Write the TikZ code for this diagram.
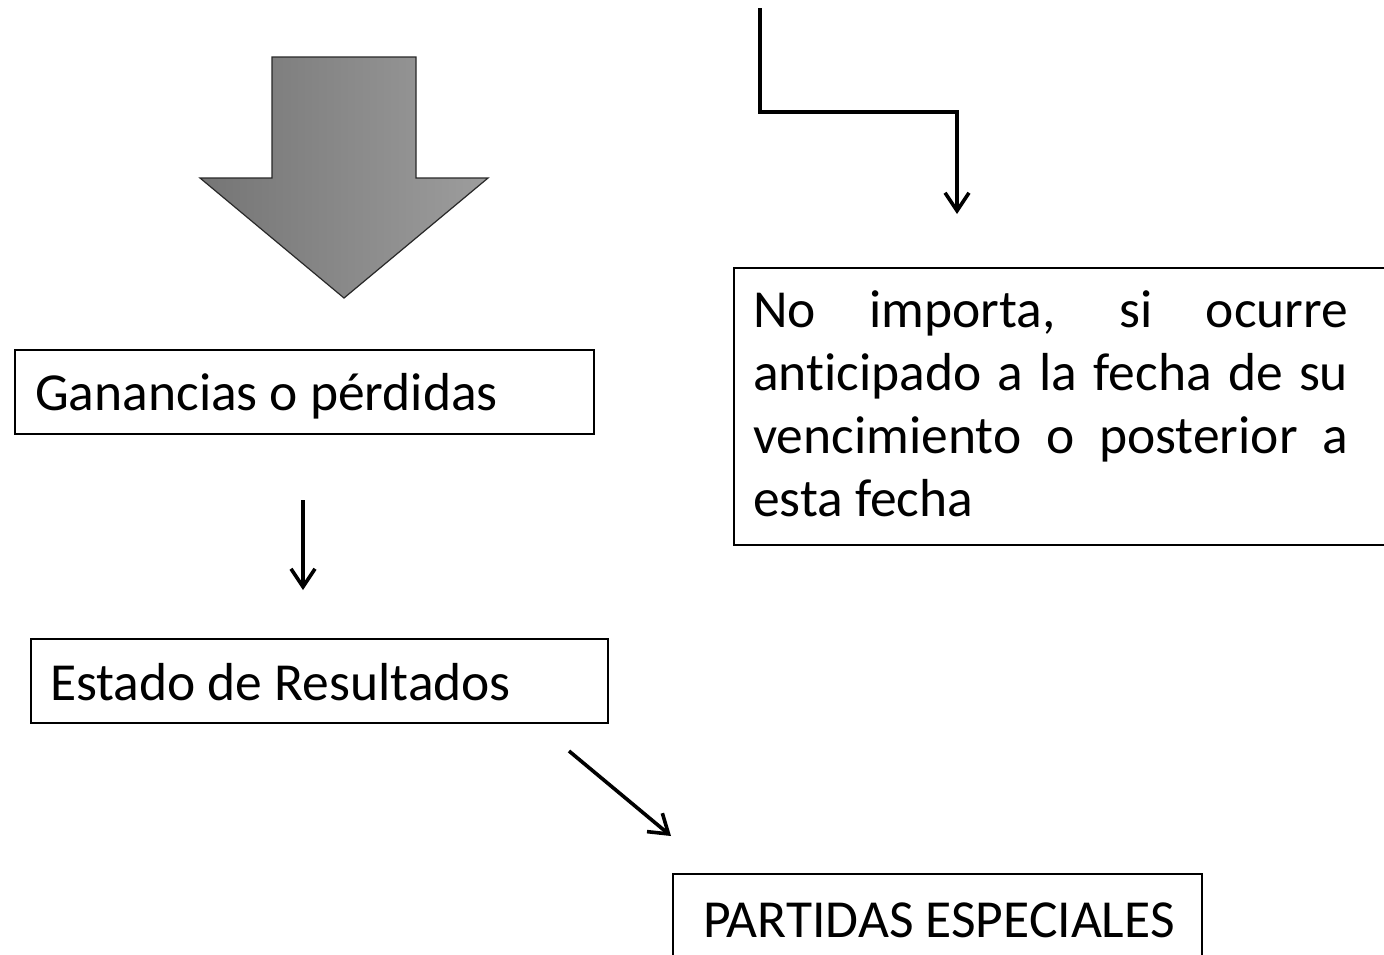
\documentclass[tikz,border=0pt]{standalone}
\usepackage{fontspec}
\setmainfont{Carlito}[RawFeature=-liga]
\usetikzlibrary{arrows.meta}
\definecolor{arrowdark}{RGB}{117,117,117}
\definecolor{arrowlight}{RGB}{157,157,157}
\definecolor{arrowedge}{RGB}{40,40,40}
\tikzset{
  box/.style={draw=black, line width=2pt, inner sep=0pt, anchor=north west},
  lbl/.style={font=\fontsize{53.5}{63}\selectfont, inner sep=0pt, anchor=base west},
  conn/.style={draw=black, line width=3.6pt, line join=miter,
    -{Straight Barb[length=18pt,width=24pt,line width=3.6pt]}},
}
\begin{document}
\begin{tikzpicture}[x=1pt,y=-1pt]
\useasboundingbox (0,0) rectangle (1384,954);
% big shaded arrow
\path[left color=arrowdark, right color=arrowlight, draw=arrowedge, line width=1.2pt, line join=miter]
  (272,57) -- (416,57) -- (416,178) -- (488,178) -- (344,298) -- (200,178) -- (272,178) -- cycle;
% elbow connector
\coordinate (e1) at (760,8);
\coordinate (e2) at (760,112);
\coordinate (e3) at (957,214);
\draw[conn] (e1) -- (e2) -| (e3);
% right box
\node[box, minimum width=680pt, minimum height=277pt] (rb) at (733,267) {};
\node[lbl] (l1) at (753,327) {\makebox[595pt][s]{No importa, si ocurre}};
\node[lbl] (l2) at (753,390) {\makebox[595pt][s]{anticipado a la fecha de su}};
\node[lbl] (l3) at (753,453) {\makebox[595pt][s]{vencimiento o posterior a}};
\node[lbl] (l4) at (753,516) {esta fecha};
% left boxes
\node[box, minimum width=579pt, minimum height=84pt] (g) at (14,349) {};
\node[lbl] (gt) at (35,410) {Ganancias o pérdidas};
\node[box, minimum width=577pt, minimum height=84pt] (er) at (30,638) {};
\node[lbl] (ert) at (50,700) {Estado de Resultados};
\node[box, minimum width=529pt, minimum height=100pt] (pe) at (672,873) {};
\node[lbl] (pet) at (703,937) {PARTIDAS ESPECIALES};
% connectors
\coordinate (d1) at (303,500);
\coordinate (d2) at (303,590);
\draw[conn] (d1) -- (d2);
\coordinate (s1) at (569,751);
\coordinate (s2) at (671,836);
\draw[conn] (s1) -- (s2);
\end{tikzpicture}
\end{document}
